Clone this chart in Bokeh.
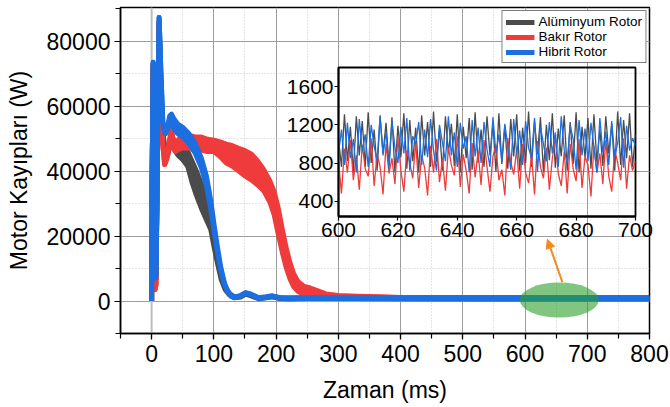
from bokeh.plotting import figure
from bokeh.models import (Range1d, SingleIntervalTicker, Legend, LegendItem, Arrow,
                          NormalHead, Span, NumeralTickFormatter)
from bokeh.embed import file_html
from bokeh.resources import INLINE

# ---------------- data ----------------
series_names = ["Alüminyum Rotor", "Bakır Rotor", "Hibrit Rotor"]
series_colors = ["#4b4b4b", "#ef3b3b", "#1b6fe0"]

# main plot: envelope (upper / lower) of each curve, time in ms, loss in W
black_x = [0, 0.5, 2.5, 5.5, 7, 9.5, 12, 15, 18, 22, 26, 29, 33, 37, 42, 50, 58, 65, 72, 80, 88, 95, 100, 106, 112,
           118, 125, 133, 143, 151, 160, 172, 184, 194, 205, 220, 250, 300, 400, 500, 600, 700, 800]
black_hi = [0, 30000, 73000, 6000, 7000, 48000, 86000, 66000, 52000, 45000, 46000, 49000, 50500, 49000, 48000, 47000,
            46000, 43000, 40000, 36000, 31000, 26000, 20000, 14000, 8500, 4500, 2300, 1300, 1500, 2400, 1900, 900,
            1200, 1500, 1000, 900, 1000, 1000, 1000, 1000, 1000, 1000, 1000]
black_lo = [0, 30000, 73000, 6000, 7000, 48000, 86000, 66000, 52000, 45000, 45000, 47500, 48000, 46500, 45000, 43500,
            41500, 36500, 32500, 28500, 25000, 22000, 17000, 11500, 6500, 3600, 1900, 1000, 1200, 2100, 1600, 700,
            1000, 1300, 800, 700, 850, 850, 850, 850, 850, 850, 850]

red_x = [0, 0.5, 2.5, 5.5, 7, 9.5, 12, 15, 18, 21, 25, 29, 32, 35, 38, 42, 50, 60, 70, 80, 90, 100, 110, 120, 130,
         140, 150, 160, 170, 180, 190, 197, 203, 210, 216, 222, 228, 235, 245, 255, 265, 280, 300, 330, 370, 400,
         500, 600, 700, 800]
red_hi = [0, 30000, 72000, 3500, 5000, 46000, 85000, 62000, 48000, 42000, 45000, 50000, 53000, 49000, 47500, 49500,
          50800, 51000, 50500, 50500, 49800, 49500, 49000, 48300, 47800, 47000, 46300, 45300, 43200, 40500, 37000,
          33500, 29000, 22000, 16500, 12000, 8500, 6000, 4500, 4000, 3300, 2200, 1700, 1500, 1300, 1100, 800, 700,
          700, 700]
red_lo = [0, 30000, 72000, 3500, 5000, 46000, 85000, 62000, 48000, 42000, 44000, 48500, 51500, 47000, 46000, 46500,
          47200, 47000, 46500, 46500, 46000, 46000, 44500, 42500, 41500, 40000, 38500, 37300, 35800, 34000, 30500,
          26500, 21000, 15000, 10500, 7000, 4500, 3000, 2000, 1500, 1100, 1000, 900, 800, 700, 600, 550, 550, 550,
          550]

blue_x = [0, 0.5, 2.5, 5.5, 7, 9.5, 12, 15, 18, 22, 26, 29, 32, 36, 42, 50, 60, 70, 80, 88, 95, 100, 105, 111, 117,
          122, 128, 135, 143, 151, 160, 172, 184, 194, 205, 220, 250, 300, 400, 500, 600, 700, 800]
blue_hi = [0, 30000, 73500, 7000, 8000, 50000, 87300, 70000, 55000, 51500, 54000, 57000, 57500, 56000, 54500, 53500,
           51500, 48500, 44000, 38500, 31000, 24000, 17500, 10500, 5500, 3200, 1600, 1300, 1700, 2600, 2100, 1000,
           1300, 1600, 1100, 900, 1000, 1000, 1000, 1000, 1000, 1000, 1000]
blue_lo = [0, 30000, 73500, 7000, 8000, 50000, 87300, 70000, 55000, 51500, 53000, 55000, 55000, 53000, 51500, 50500,
           48500, 45500, 41000, 35500, 28500, 22000, 16000, 9500, 5000, 3000, 1400, 1100, 1500, 2400, 1900, 800,
           1100, 1400, 900, 700, 800, 800, 800, 800, 800, 800, 800]

# inset: 600 - 700 ms, one value per ms
inset_t = list(range(600, 701))
black_in = [1050, 760, 1310, 820, 1180, 700, 1290, 880, 1240, 760,
            1330, 800, 1150, 720, 1300, 900, 1220, 780, 1280, 700,
            1190, 860, 1320, 740, 1250, 820, 1170, 700, 1300, 880,
            1230, 760, 1340, 810, 1160, 720, 1290, 900, 1210, 770,
            1310, 700, 1180, 850, 1270, 730, 1330, 800, 1150, 760,
            1290, 880, 1220, 710, 1320, 790, 1190, 740, 1260, 870,
            1310, 720, 1170, 800, 1340, 760, 1240, 890, 1280, 700,
            1200, 830, 1320, 750, 1160, 870, 1300, 720, 1230, 790,
            1330, 700, 1180, 860, 1270, 740, 1310, 810, 1150, 770,
            1290, 900, 1210, 720, 1340, 780, 1250, 850, 1320, 760,
            1100]
red_in = [820, 480, 950, 700, 1040, 620, 880, 520, 990, 740,
          660, 1060, 560, 900, 760, 470, 1000, 690, 850, 580,
          1070, 720, 500, 930, 800, 640, 1020, 540, 880, 750,
          460, 980, 700, 1050, 600, 840, 510, 960, 780, 670,
          1080, 550, 890, 720, 480, 1010, 650, 920, 570, 1040,
          760, 500, 870, 990, 620, 730, 460, 1060, 810, 680,
          940, 530, 1000, 700, 590, 880, 470, 1030, 760, 640,
          960, 520, 850, 1070, 690, 560, 920, 480, 1000, 740,
          610, 1050, 540, 870, 780, 450, 980, 700, 900, 580,
          1040, 660, 500, 940, 800, 620, 1060, 530, 880, 720,
          820]
blue_in = [900, 1150, 780, 1220, 850, 1050, 700, 1260, 920, 1100,
           760, 1200, 980, 820, 1280, 880, 1130, 740, 1240, 960,
           800, 1180, 900, 1270, 720, 1080, 1000, 1230, 780, 1150,
           860, 1260, 930, 720, 1200, 1010, 820, 1290, 880, 1120,
           760, 1220, 950, 1080, 700, 1250, 870, 1170, 800, 1230,
           940, 760, 1280, 900, 1100, 820, 1210, 980, 730, 1260,
           890, 1140, 780, 1240, 960, 850, 1270, 710, 1180, 1000,
           820, 1230, 900, 1120, 760, 1290, 940, 800, 1200, 1050,
           730, 1250, 880, 1160, 820, 1220, 970, 700, 1270, 910,
           1130, 780, 1240, 860, 1010, 1280, 750, 1190, 930, 1060,
           980]

x_ticks_interval = 100
y_ticks_interval = 20000
inset_x_interval = 20
inset_y_interval = 400

# zoom marker (ellipse) and arrow, in data units of main plot
mark_x, mark_y, mark_w, mark_h = [655], [300], [127], [10800]
arrow_from = (660, 5800)
arrow_to = (636, 19000)

# ---------------- styling ----------------
W, H = 670, 407
FONT = "Liberation Sans"

p = figure(width=W, height=H, x_range=Range1d(-50, 800), y_range=Range1d(-10000, 90370),
           output_backend="svg", toolbar_location=None,
           min_border_left=120, min_border_right=21, min_border_top=7, min_border_bottom=74)
p.outline_line_color = "black"
p.outline_line_width = 1.5

p.xaxis.ticker = SingleIntervalTicker(interval=x_ticks_interval, num_minor_ticks=2)
p.yaxis.ticker = SingleIntervalTicker(interval=y_ticks_interval, num_minor_ticks=2)
p.yaxis.formatter = NumeralTickFormatter(format="0")
p.xaxis.axis_label = "Zaman (ms)"
p.yaxis.axis_label = "Motor Kayıpları (W)"
for ax in p.axis:
    ax.axis_label_text_font = FONT
    ax.axis_label_text_font_size = "23px"
    ax.axis_label_text_font_style = "normal"
    ax.axis_label_text_color = "black"
    ax.major_label_text_font = FONT
    ax.major_label_text_font_size = "23px"
    ax.major_label_text_color = "black"
    ax.axis_line_color = "black"
    ax.axis_line_width = 1.5
    ax.major_tick_line_color = "black"
    ax.minor_tick_line_color = "black"
    ax.major_tick_line_width = 1.2
    ax.minor_tick_line_width = 1.2
    ax.major_tick_in = 0
    ax.minor_tick_in = 0
    ax.major_tick_out = 6
    ax.minor_tick_out = 5
p.xaxis.major_label_standoff = 5
p.xaxis.axis_label_standoff = 12
p.yaxis.major_label_standoff = 4
p.yaxis.axis_label_standoff = 12

for g in (p.xgrid, p.ygrid):
    g.grid_line_color = "#9d9d9d"
    g.grid_line_width = 1
    g.minor_grid_line_color = "#c8c8c8"
    g.minor_grid_line_dash = "1 2"
    g.minor_grid_line_width = 1

p.add_layout(Span(location=0, dimension="height", line_color="#bdbdbd", line_width=2, level="underlay"))

legend_items = []
for name, color, xs, hi, lo in [
        (series_names[0], series_colors[0], black_x, black_hi, black_lo),
        (series_names[1], series_colors[1], red_x, red_hi, red_lo),
        (series_names[2], series_colors[2], blue_x, blue_hi, blue_lo)]:
    p.varea(x=xs, y1=lo, y2=hi, fill_color=color)
    p.line(xs, lo, line_color=color, line_width=5, line_join="round")
    r = p.line(xs, hi, line_color=color, line_width=5, line_join="round")
    legend_items.append(LegendItem(label=name, renderers=[r]))

p.ellipse(x=mark_x, y=mark_y, width=mark_w, height=mark_h, fill_color="#2ca02c", fill_alpha=0.6, line_color=None)
p.add_layout(Arrow(x_start=arrow_from[0], y_start=arrow_from[1], x_end=arrow_to[0], y_end=arrow_to[1],
                   line_color="#f28a22", line_width=2,
                   end=NormalHead(size=9, fill_color="#f28a22", line_color="#f28a22")))

legend = Legend(items=legend_items, location="top_right")
legend.label_text_font = FONT
legend.label_text_font_size = "13.5px"
legend.label_text_color = "black"
legend.glyph_width = 29
legend.glyph_height = 14
legend.label_height = 14
legend.label_standoff = 4
legend.spacing = 0
legend.padding = 3
legend.margin = 3
legend.border_line_color = "black"
legend.border_line_width = 1
legend.background_fill_color = "white"
legend.background_fill_alpha = 1
p.add_layout(legend)

# ---------------- inset (overlaid figure, separate root) ----------------
q = figure(width=W, height=H, x_range=Range1d(600, 700), y_range=Range1d(240, 1800),
           output_backend="svg", toolbar_location=None,
           min_border_left=338, min_border_right=35, min_border_top=67, min_border_bottom=191,
           background_fill_color=None, border_fill_color=None, margin=(-H, 0, 0, 0))
q.outline_line_color = "black"
q.outline_line_width = 1.8
q.xgrid.visible = False
q.ygrid.visible = False
q.xaxis.ticker = SingleIntervalTicker(interval=inset_x_interval, num_minor_ticks=0)
q.yaxis.ticker = SingleIntervalTicker(interval=inset_y_interval, num_minor_ticks=0)
for ax in q.axis:
    ax.major_label_text_font = FONT
    ax.major_label_text_font_size = "21px"
    ax.major_label_text_color = "black"
    ax.axis_line_color = "black"
    ax.axis_line_width = 1.8
    ax.major_tick_line_color = "black"
    ax.major_tick_line_width = 1.2
    ax.major_tick_in = 0
    ax.major_tick_out = 4
    ax.minor_tick_line_color = None
q.xaxis.major_label_standoff = 2
q.yaxis.major_label_standoff = 1

q.line(inset_t, black_in, line_color=series_colors[0], line_width=1.3)
q.line(inset_t, red_in, line_color=series_colors[1], line_width=1.3)
q.line(inset_t, blue_in, line_color=series_colors[2], line_width=1.3)

open("out.html", "w").write(file_html([p, q], INLINE))
